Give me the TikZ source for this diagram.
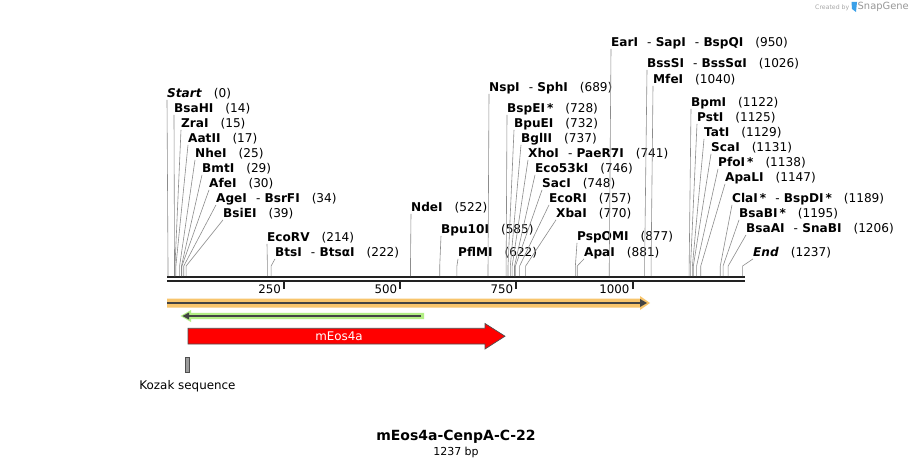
\documentclass[tikz,border=0pt]{standalone}
\usepackage{fontspec}
\setmainfont{DejaVu Sans}
\usetikzlibrary{arrows.meta}
\definecolor{leadgray}{HTML}{8C8C8C}
\definecolor{seqcol}{HTML}{222222}
\definecolor{orangeband}{HTML}{F8C56C}
\definecolor{greenband}{HTML}{B2EE84}
\definecolor{featred}{HTML}{FF0000}
\definecolor{kozakgray}{HTML}{9C9C9C}
\definecolor{sgtext}{HTML}{A8A8A8}
\definecolor{sgblue}{HTML}{3AA0E8}
\newcommand\enzlabel[6]{%
  \node[enzlab] (#1) at (#2,#3+4.4) {#5\hspace{12pt}(#6)};
  \coordinate (#1c) at ({168+0.4645*#4},266);
  \coordinate (#1s) at ({168+0.4645*#4},276);
  \draw[leader] ([yshift=-2.5pt]#1.base west) -- (#1c) -- (#1s);
}
\newcommand\dsh{\hspace{0.75em}-\hspace{0.35em}}
\begin{document}
\begin{tikzpicture}[x=1pt,y=-1pt,
  enzlab/.style={anchor=base west,inner sep=0pt,font=\fontsize{12.1}{14}\selectfont},
  leader/.style={draw=leadgray,line width=0.6pt},
  seqline/.style={draw=seqcol,line width=2.2pt},
  tickmark/.style={draw=seqcol,line width=2pt},
  ticklab/.style={anchor=east,inner sep=0pt,font=\fontsize{11.8}{14}\selectfont},
  plain/.style={inner sep=0pt,font=\fontsize{11.9}{14}\selectfont}]
\fill[white] (0,0) rectangle (913,468);
\useasboundingbox (0,0) rectangle (913,468);

% SnapGene mark
\node[inner sep=0pt,anchor=west,text=sgtext,font=\fontsize{6.2}{7}\selectfont] (crby) at (815,7.5) {Created by};
\fill[sgblue] (851.5,2) -- (857,2) -- (856,12) -- (852,9) -- cycle;
\node[inner sep=0pt,anchor=west,text=sgtext!90!black,font=\fontsize{9.9}{11}\selectfont] (sg) at (857.5,7) {SnapGene};

% sequence line and ruler
\draw[seqline] (167,277) -- (745,277);
\draw[seqline] (167,281.2) -- (745,281.2);
\foreach \bp/\lab in {250/250,500/500,750/750,1000/1000}{
  \draw[tickmark] ({168+0.4645*\bp},282) -- ({168+0.4645*\bp},289);
  \node[ticklab] (t\bp) at ({168+0.4645*\bp-3},289) {\lab};
}

% enzyme labels
\enzlabel{start}{167}{93}{0}{\textbf{\textit{Start}}}{0}
\enzlabel{bsahi}{174}{108}{14}{\textbf{BsaHI}}{14}
\enzlabel{zrai}{181}{123}{15}{\textbf{ZraI}}{15}
\enzlabel{aatii}{188}{138}{17}{\textbf{AatII}}{17}
\enzlabel{nhei}{195}{153}{25}{\textbf{NheI}}{25}
\enzlabel{bmti}{202}{168}{29}{\textbf{BmtI}}{29}
\enzlabel{afei}{209}{183}{30}{\textbf{AfeI}}{30}
\enzlabel{agei}{216}{198}{34}{\textbf{AgeI}\dsh\textbf{BsrFI}}{34}
\enzlabel{bsiei}{223}{213}{39}{\textbf{BsiEI}}{39}
\enzlabel{ecorv}{267}{237}{214}{\textbf{EcoRV}}{214}
\enzlabel{btsi}{275}{252}{222}{\textbf{BtsI}\dsh\textbf{BtsαI}}{222}
\enzlabel{ndei}{411}{207}{522}{\textbf{NdeI}}{522}
\enzlabel{bpuxi}{441}{229}{585}{\textbf{Bpu10I}}{585}
\enzlabel{pflmi}{458}{252}{622}{\textbf{PflMI}}{622}
\enzlabel{nspi}{489}{87}{689}{\textbf{NspI}\dsh\textbf{SphI}}{689}
\enzlabel{bspei}{507}{108}{728}{\textbf{BspEI\,*}}{728}
\enzlabel{bpuei}{514}{123}{732}{\textbf{BpuEI}}{732}
\enzlabel{bglii}{521}{138}{737}{\textbf{BglII}}{737}
\enzlabel{xhoi}{528}{153}{741}{\textbf{XhoI}\dsh\textbf{PaeR7I}}{741}
\enzlabel{ecoftk}{535}{168}{746}{\textbf{Eco53kI}}{746}
\enzlabel{saci}{542}{183}{748}{\textbf{SacI}}{748}
\enzlabel{ecori}{549}{198}{757}{\textbf{EcoRI}}{757}
\enzlabel{xbai}{556}{213}{770}{\textbf{XbaI}}{770}
\enzlabel{pspomi}{577}{236}{877}{\textbf{PspOMI}}{877}
\enzlabel{apai}{584}{252}{881}{\textbf{ApaI}}{881}
\enzlabel{eari}{611}{42}{950}{\textbf{EarI}\dsh\textbf{SapI}\dsh\textbf{BspQI}}{950}
\enzlabel{bsssi}{647}{63}{1026}{\textbf{BssSI}\dsh\textbf{BssSαI}}{1026}
\enzlabel{mfei}{653}{79}{1040}{\textbf{MfeI}}{1040}
\enzlabel{bpmi}{691}{102}{1122}{\textbf{BpmI}}{1122}
\enzlabel{psti}{697}{117}{1125}{\textbf{PstI}}{1125}
\enzlabel{tati}{704}{132}{1129}{\textbf{TatI}}{1129}
\enzlabel{scai}{711}{147}{1131}{\textbf{ScaI}}{1131}
\enzlabel{pfoi}{718}{162}{1138}{\textbf{PfoI\,*}}{1138}
\enzlabel{apali}{725}{177}{1147}{\textbf{ApaLI}}{1147}
\enzlabel{clai}{732}{198}{1189}{\textbf{ClaI\,*}\dsh\textbf{BspDI\,*}}{1189}
\enzlabel{bsabi}{739}{213}{1195}{\textbf{BsaBI\,*}}{1195}
\enzlabel{bsaai}{746}{228}{1206}{\textbf{BsaAI}\dsh\textbf{SnaBI}}{1206}
\enzlabel{end}{753}{252}{1237}{\textbf{\textit{End}}}{1237}

% orange feature (forward)
\fill[orangeband] (167,298.5) -- (640,298.5) -- (640,296) -- (650,303) -- (640,310) -- (640,307.5) -- (167,307.5) -- cycle;
\draw[draw=seqcol!85,line width=1.8pt] (167,303) -- (641,303);
\fill[seqcol!85] (640,299) -- (647,303) -- (640,307) -- cycle;

% green feature (reverse)
\fill[greenband] (424,312.8) -- (191,312.8) -- (191,310) -- (180.5,316) -- (191,322) -- (191,319.2) -- (424,319.2) -- cycle;
\draw[draw=seqcol!85,line width=1.8pt] (421,316) -- (188,316);
\fill[seqcol!85] (189,312.5) -- (182.5,316) -- (189,319.5) -- cycle;

% mEos4a arrow
\draw[fill=featred,draw=seqcol!80,line width=0.7pt] (188,328.3) -- (485,328.3) -- (485,323.5) -- (505,336.2) -- (485,349) -- (485,344) -- (188,344) -- cycle;
\node[plain,text=white] (meos) at (339,336) {mEos4a};

% Kozak sequence
\draw[fill=kozakgray,draw=seqcol!80,line width=0.6pt] (185.5,357.5) rectangle (189.5,372.5);
\node[plain] (kozak) at (187.5,386) {Kozak sequence};

% title
\node[inner sep=0pt,font=\fontsize{14}{16}\selectfont\bfseries] (title) at (456,437) {mEos4a-CenpA-C-22};
\node[inner sep=0pt,font=\fontsize{11}{13}\selectfont] (size) at (456,452) {1237 bp};
\end{tikzpicture}
\end{document}
